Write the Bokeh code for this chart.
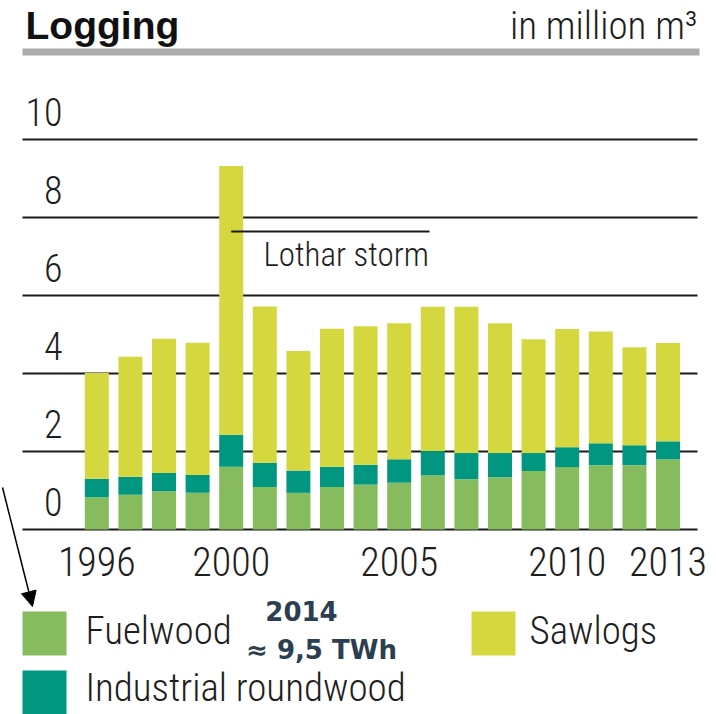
from bokeh.plotting import figure
from bokeh.models import Range1d, Label, BoxAnnotation, Arrow, NormalHead, ColumnDataSource
from bokeh.core.properties import value
from bokeh.embed import file_html
from bokeh.resources import INLINE

# ---------------- data ----------------
years = [1996, 1997, 1998, 1999, 2000, 2001, 2002, 2003, 2004,
         2005, 2006, 2007, 2008, 2009, 2010, 2011, 2012, 2013]
fuelwood = [0.83, 0.89, 0.98, 0.94, 1.61, 1.09, 0.94, 1.09, 1.15,
            1.20, 1.39, 1.29, 1.34, 1.50, 1.60, 1.65, 1.65, 1.80]
industrial = [0.47, 0.46, 0.47, 0.46, 0.82, 0.62, 0.57, 0.52, 0.51,
              0.60, 0.62, 0.67, 0.62, 0.46, 0.51, 0.56, 0.51, 0.46]
sawlogs = [2.71, 3.08, 3.44, 3.39, 6.89, 4.01, 3.07, 3.54, 3.55,
           3.49, 3.70, 3.75, 3.33, 2.92, 3.03, 2.87, 2.51, 2.52]
series = ["Fuelwood", "Industrial roundwood", "Sawlogs"]
colors = ["#86bc5e", "#00967f", "#d4d83e"]
y_ticks = [0, 2, 4, 6, 8, 10]
y_tick_labels = ["0", "2", "4", "6", "8", "10"]
x_ticks = [1996, 2000, 2005, 2010, 2013]
x_tick_labels = ["1996", "2000", "2005", "2010", "2013"]

# ---------------- layout helpers (window px -> data) ----------------
X_ORIG, X_STEP = 96.3, 33.6     # px of 1996 bar centre, px per year
Y_ORIG, Y_STEP = 529.0, 39.0    # px of value 0, px per unit
W, H = 716, 714
LIFT = 0.37                     # baseline correction (em) for rendered text


def px_x(wx):
    return 1996 + (wx - X_ORIG) / X_STEP


def px_y(wy):
    return (Y_ORIG - wy) / Y_STEP


def base_y(wy, fs):
    """data y for a text whose baseline should sit at window px wy"""
    return px_y(wy - LIFT * fs)


NARROW = "'Roboto Condensed Light', 'Roboto Condensed', 'DejaVu Sans Condensed', Roboto, sans-serif"
TXT = "#1e1e1e"

p = figure(width=W, height=H,
           x_range=Range1d(px_x(0), px_x(W)),
           y_range=Range1d(px_y(H), px_y(0)),
           output_backend="svg", toolbar_location=None,
           x_axis_location=None, y_axis_location=None,
           min_border=0, outline_line_color=None)
p.grid.visible = False

# title + rule
p.add_layout(Label(x=px_x(25), y=base_y(39, 39), text="Logging", text_font="Liberation Sans",
                   text_font_style="bold", text_font_size="39px", text_color="#111111",
                   text_baseline="alphabetic", text_align="left"))
p.add_layout(Label(x=px_x(697), y=base_y(40, 39), text="in million m³", text_font=NARROW,
                   text_font_size="39px", text_color=TXT,
                   text_baseline="alphabetic", text_align="right"))
p.add_layout(BoxAnnotation(left=px_x(22), right=px_x(699), top=px_y(48), bottom=px_y(55),
                           fill_color="#ababab", fill_alpha=1, line_color=None))

# gridlines (incl. baseline)
gx0, gx1 = px_x(22), px_x(697)
p.segment(x0=[gx0] * len(y_ticks), x1=[gx1] * len(y_ticks), y0=y_ticks, y1=y_ticks,
          line_color="#1a1a1a", line_width=2)

# y tick labels (sit ~13px above their gridline)
p.text(x=[px_x(62)] * len(y_ticks),
       y=[t + (13 + LIFT * 38) / Y_STEP for t in y_ticks], text=y_tick_labels,
       text_font=value(NARROW), text_font_size="38px", text_color=TXT,
       text_align="right", text_baseline="alphabetic")

# stacked bars
src = ColumnDataSource(dict(year=years, Fuelwood=fuelwood,
                            **{"Industrial roundwood": industrial}, Sawlogs=sawlogs))
p.vbar_stack(series, x="year", width=24 / X_STEP, color=colors, line_color=None, source=src)

# Lothar storm annotation
lothar_y = px_y(231)
p.segment(x0=[2000], x1=[px_x(429)], y0=[lothar_y], y1=[lothar_y],
          line_color="#1a1a1a", line_width=2)
p.add_layout(Label(x=px_x(263), y=base_y(266, 33), text="Lothar storm", text_font=NARROW,
                   text_font_size="33px", text_color=TXT,
                   text_baseline="alphabetic", text_align="left"))

# year labels
p.text(x=x_ticks, y=[base_y(576, 40)] * len(x_ticks), text=x_tick_labels,
       text_font=value(NARROW), text_font_size="40px", text_color=TXT,
       text_align="center", text_baseline="alphabetic")

# legend (manual)
leg = [("Fuelwood", colors[0], 22, 611, 85, 645),
       ("Sawlogs", colors[2], 471, 611, 529, 645),
       ("Industrial roundwood", colors[1], 22, 670, 85, 702)]
for name, col, bx, by, tx, ty in leg:
    p.add_layout(BoxAnnotation(left=px_x(bx), right=px_x(bx + 44), top=px_y(by),
                               bottom=px_y(by + 44), fill_color=col, fill_alpha=1,
                               line_color=None))
    p.add_layout(Label(x=px_x(tx), y=base_y(ty, 39), text=name, text_font=NARROW,
                       text_font_size="39px", text_color=TXT,
                       text_baseline="alphabetic", text_align="left"))

# 2014 note + arrow
NOTE = "#2c3e50"
p.add_layout(Label(x=px_x(301), y=base_y(620, 26), text="2014", text_font="DejaVu Sans",
                   text_font_style="bold", text_font_size="26px", text_color=NOTE,
                   text_baseline="alphabetic", text_align="center"))
p.add_layout(Label(x=px_x(321), y=base_y(659, 26), text="≈ 9,5 TWh", text_font="DejaVu Sans",
                   text_font_style="bold", text_font_size="26px", text_color=NOTE,
                   text_baseline="alphabetic", text_align="center"))
p.add_layout(Arrow(end=NormalHead(size=15, fill_color="black", line_color="black"),
                   x_start=px_x(2), y_start=px_y(487), x_end=px_x(32), y_end=px_y(606),
                   line_color="black", line_width=1.5))

open("out.html", "w").write(file_html(p, INLINE))
